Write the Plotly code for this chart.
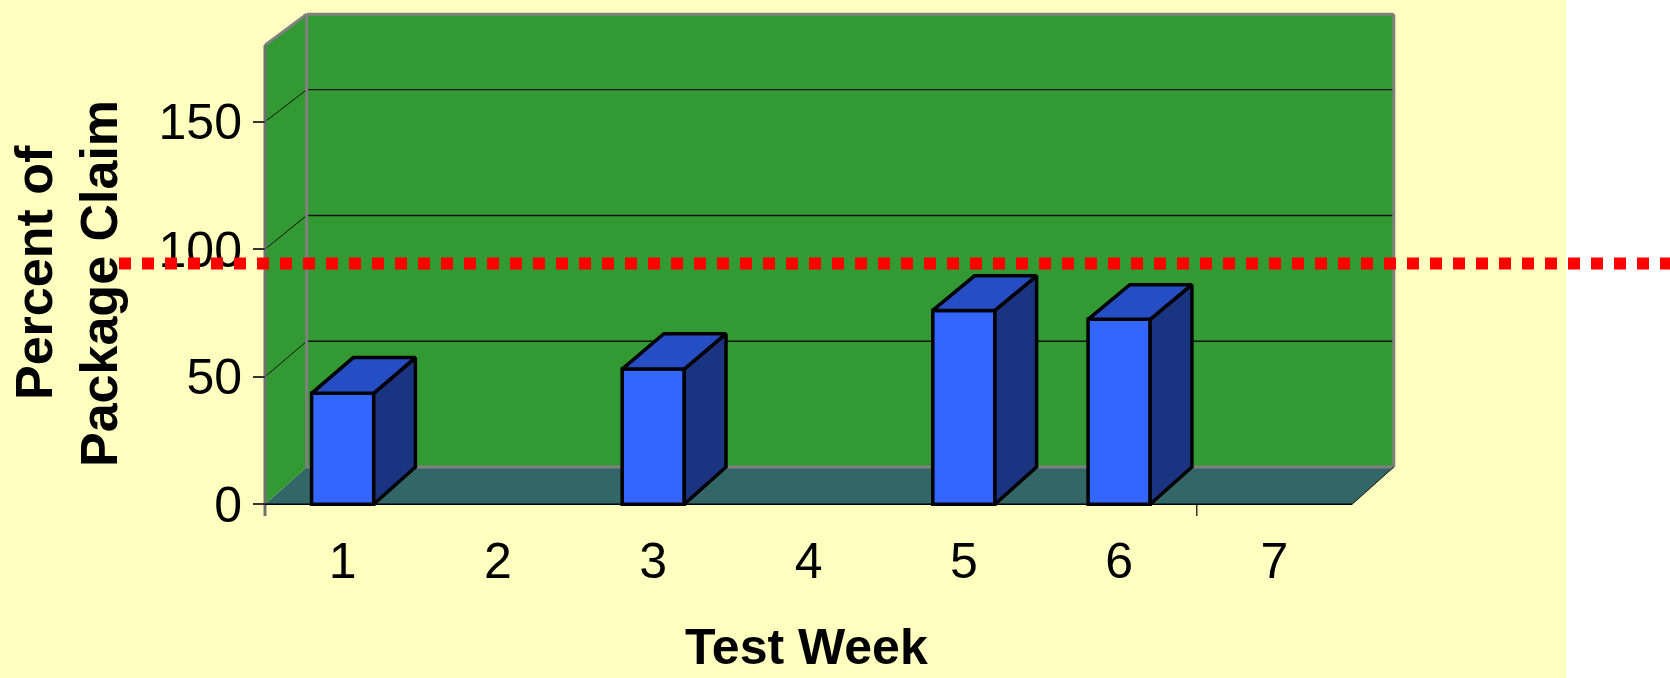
import plotly.graph_objects as go

# ---------------- data ----------------
weeks = [1, 2, 3, 4, 5, 6, 7]
week_labels = ["1", "2", "3", "4", "5", "6", "7"]
percent_of_claim = [43.5, None, 53, None, 76, 72.5, None]
y_tick_values = [0, 50, 100, 150]
y_tick_labels = ["0", "50", "100", "150"]
gridline_values = [50, 100, 150]
claim_line_value = 94.4
axis_max = 180

# ---------------- geometry / style ----------------
FIG_W, FIG_H = 1670, 678
PLOT_L, PLOT_R, PLOT_T, PLOT_B = 253, 1400, 4, 518
PX_PER_CAT = 155.3
PX_PER_VAL = 2.551
FRONT_LEFT_PX = 265      # pixel of category boundary 0.5
ZERO_PX = 504.3          # pixel of value 0
DX = 0.2685              # depth offset (category units)
DY = 14.62               # depth offset (value units)
K_BACK = 0.986           # slight perspective shrink of the back plane
BAR_W = 0.40
TICK_DOWN = 4.6          # value units below floor for tick marks
OUTLINE = 3.5

FONT = "Arial, Liberation Sans, sans-serif"
YELLOW = "#FFFFC0"
GREEN = "#339933"
FLOOR = "#336666"
EDGE = "#808080"
BAR_FRONT = "#3366FF"
BAR_SIDE = "#1B3482"
BAR_TOP = "#264EC4"

x_lo = 0.5 - (FRONT_LEFT_PX - PLOT_L) / PX_PER_CAT
x_hi = x_lo + (PLOT_R - PLOT_L) / PX_PER_CAT
y_lo = -(PLOT_B - ZERO_PX) / PX_PER_VAL
y_hi = (ZERO_PX - PLOT_T) / PX_PER_VAL


def paper_x(px):
    return (px - PLOT_L) / (PLOT_R - PLOT_L)


def paper_y(px):
    return (PLOT_B - px) / (PLOT_B - PLOT_T)


def val_to_paper_y(v):
    return (v - y_lo) / (y_hi - y_lo)


def back(x, v):
    """Project a point of the front plane onto the back plane."""
    return x + DX, v * K_BACK + DY


x_first = weeks[0] - 0.5
x_last = weeks[-1] + 0.5
top = axis_max

shapes = []


def poly(points, fill):
    path = "M " + " L ".join(f"{x},{y}" for x, y in points) + " Z"
    return dict(type="path", path=path, xref="x", yref="y", fillcolor=fill,
                line=dict(width=0), layer="below")


def seg(p0, p1, color, width, layer="below"):
    return dict(type="line", x0=p0[0], y0=p0[1], x1=p1[0], y1=p1[1],
                xref="x", yref="y", line=dict(color=color, width=width), layer=layer)


# right white strip beyond the yellow background
shapes.append(dict(type="rect", xref="paper", yref="paper",
                   x0=paper_x(1566), x1=paper_x(FIG_W + 20), y0=-1, y1=2,
                   fillcolor="white", line=dict(width=0), layer="below"))

# floor, left wall, back wall
shapes.append(poly([(x_first, 0), (x_last, 0), back(x_last, 0), back(x_first, 0)], FLOOR))
shapes.append(poly([(x_first, 0), (x_first, top), back(x_first, top), back(x_first, 0)], GREEN))
shapes.append(poly([back(x_first, 0), back(x_last, 0), back(x_last, top), back(x_first, top)], GREEN))

# gridlines
for v in gridline_values:
    shapes.append(seg(back(x_first, v), back(x_last, v), "#111111", 1.3))
    shapes.append(seg((x_first, v), back(x_first, v), "#111111", 1))

# gray wall edges
shapes.append(seg(back(x_first, 0), back(x_first, top), EDGE, 3))
shapes.append(seg(back(x_first, top), back(x_last, top), EDGE, 3))
shapes.append(seg(back(x_last, 0), back(x_last, top), EDGE, 3))
shapes.append(seg(back(x_first, 0), back(x_last, 0), EDGE, 3))
shapes.append(seg((x_first, top), back(x_first, top), EDGE, 3))
shapes.append(seg((x_first, -TICK_DOWN), (x_first, top), "#707070", 3))

# floor front and right edges, category tick
shapes.append(seg((x_first, 0), (x_last, 0), "black", 1.5))
shapes.append(seg((x_last, 0), back(x_last, 0), "#111111", 1))
shapes.append(seg((6.5, 0), (6.5, -TICK_DOWN), "black", 1.2))

# red dotted reference line (extends beyond plot)
yl = val_to_paper_y(claim_line_value)
shapes.append(dict(type="line", xref="paper", yref="paper",
                   x0=paper_x(119), x1=paper_x(FIG_W + 10), y0=yl, y1=yl,
                   line=dict(color="#FF0000", width=12, dash="12px,11px"),
                   layer="above"))

fig = go.Figure()

# front faces of the columns
fig.add_trace(go.Bar(
    x=weeks, y=percent_of_claim, width=BAR_W,
    marker=dict(color=BAR_FRONT, line=dict(color="black", width=OUTLINE)),
    hoverinfo="x+y", name="Percent of Package Claim",
))

# side and top faces of the columns
side_x, side_y, top_x, top_y = [], [], [], []
for w, v in zip(weeks, percent_of_claim):
    if v is None:
        continue
    x0, x1 = w - BAR_W / 2, w + BAR_W / 2
    b1_0 = back(x1, 0)
    b1_v = back(x1, v)
    b0_v = back(x0, v)
    side_x += [x1, b1_0[0], b1_v[0], x1, x1, None]
    side_y += [0, b1_0[1], b1_v[1], v, 0, None]
    top_x += [x0, x1, b1_v[0], b0_v[0], x0, None]
    top_y += [v, v, b1_v[1], b0_v[1], v, None]

fig.add_trace(go.Scatter(x=side_x, y=side_y, mode="lines", fill="toself",
                         fillcolor=BAR_SIDE, line=dict(color="black", width=OUTLINE),
                         hoverinfo="skip"))
fig.add_trace(go.Scatter(x=top_x, y=top_y, mode="lines", fill="toself",
                         fillcolor=BAR_TOP, line=dict(color="black", width=OUTLINE),
                         hoverinfo="skip"))

annotations = [
    dict(text="<b>Percent of</b>", xref="paper", yref="paper",
         x=paper_x(34), y=paper_y(273), xanchor="center", yanchor="middle",
         textangle=-90, showarrow=False, font=dict(family=FONT, size=52, color="black")),
    dict(text="<b>Package Claim</b>", xref="paper", yref="paper",
         x=paper_x(99), y=paper_y(284), xanchor="center", yanchor="middle",
         textangle=-90, showarrow=False, font=dict(family=FONT, size=52, color="black")),
    dict(text="<b>Test Week</b>", xref="paper", yref="paper",
         x=paper_x(806), y=paper_y(647), xanchor="center", yanchor="middle",
         showarrow=False, font=dict(family=FONT, size=50, color="black")),
]

fig.update_layout(
    width=FIG_W, height=FIG_H,
    margin=dict(l=PLOT_L, r=FIG_W - PLOT_R, t=PLOT_T, b=FIG_H - PLOT_B, pad=0),
    paper_bgcolor=YELLOW, plot_bgcolor="rgba(0,0,0,0)",
    showlegend=False,
    shapes=shapes,
    annotations=annotations,
    xaxis=dict(range=[x_lo, x_hi], tickvals=weeks, ticktext=week_labels,
               showgrid=False, zeroline=False, showline=False, ticks="",
               ticklabelstandoff=9,
               tickfont=dict(family=FONT, size=50, color="black")),
    yaxis=dict(range=[y_lo, y_hi], tickvals=y_tick_values, ticktext=y_tick_labels,
               showgrid=False, zeroline=False, showline=False,
               ticks="inside", ticklen=12, tickwidth=1.5, tickcolor="#333333",
               ticklabelstandoff=10,
               tickfont=dict(family=FONT, size=50, color="black")),
)

fig.write_html("out.html", config={"displayModeBar": False},
               post_script="document.body.style.margin='0';")
